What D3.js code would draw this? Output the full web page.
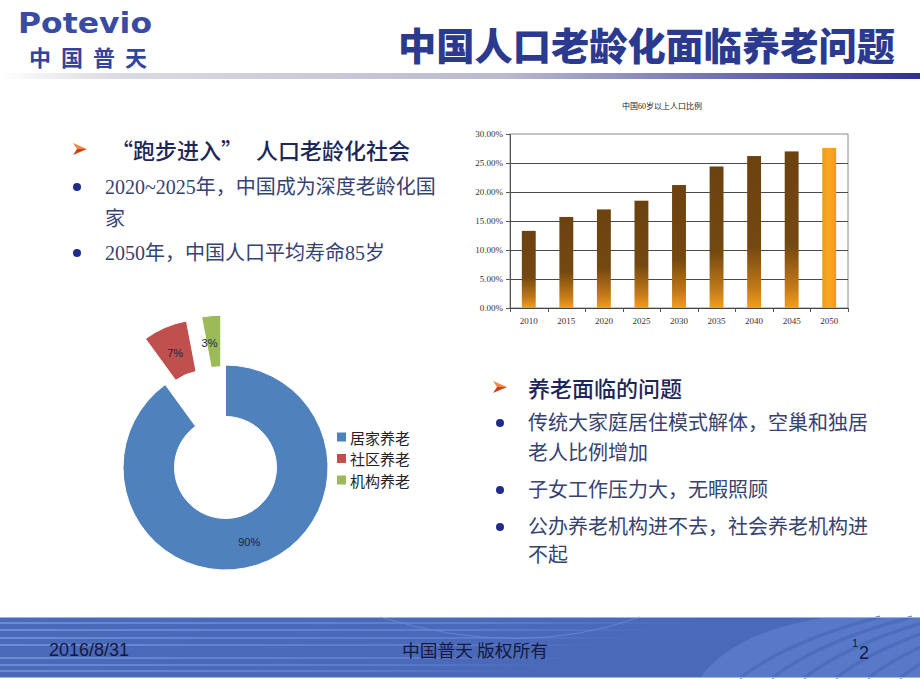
<!DOCTYPE html>
<html>
<head>
<meta charset="utf-8">
<script src="https://cdn.jsdelivr.net/npm/d3@7"></script>
<style>
  body { margin: 0; background: #fff; }
  svg { display: block; }
</style>
</head>
<body>
<svg id="slide" width="920" height="690"></svg>
<script>
// bar chart data
var years = ["2010", "2015", "2020", "2025", "2030", "2035", "2040", "2045", "2050"];
var ratios = [13.3, 15.7, 17.0, 18.5, 21.2, 24.4, 26.2, 27.0, 27.6];
var ratioTicks = [0, 5, 10, 15, 20, 25, 30];
var barTitle = "中国60岁以上人口比例";

// donut data
var careTypes = ["居家养老", "社区养老", "机构养老"];
var careShares = [90, 7, 3];
var careColors = ["#4f81bd", "#c0504d", "#9bbb59"];

// slide text
var slideTitle = "中国人口老龄化面临养老问题";
var leftHead = ["“跑步进入”", "人口老龄化社会"];
var leftPoints = [["2020~2025年，中国成为深度老龄化国", "家"], ["2050年，中国人口平均寿命85岁"]];
var rightHead = "养老面临的问题";
var rightPoints = [["传统大家庭居住模式解体，空巢和独居", "老人比例增加"],
                   ["子女工作压力大，无暇照顾"],
                   ["公办养老机构进不去，社会养老机构进", "不起"]];
var footDate = "2016/8/31";
var footOwner = "中国普天 版权所有";

var svg = d3.select("#slide");
var defs = svg.append("defs");
var cjk = "'Noto Sans CJK SC', 'Noto Sans', sans-serif";
var mixed = "'Liberation Serif', 'Noto Sans CJK SC', serif";

/*
 * Header: logo, title, gradient rule
 */
var rule = defs.append("linearGradient").attr("id", "ruleGrad");
rule.append("stop").attr("offset", 0).attr("stop-color", "#ffffff");
rule.append("stop").attr("offset", 0.12).attr("stop-color", "#dcdce2");
rule.append("stop").attr("offset", 0.55).attr("stop-color", "#b9b9cf");
rule.append("stop").attr("offset", 0.85).attr("stop-color", "#5a5ca8");
rule.append("stop").attr("offset", 1).attr("stop-color", "#2e3190");

svg.append("rect").attr("x", 0).attr("y", 73).attr("width", 920).attr("height", 6)
  .attr("fill", "url(#ruleGrad)");

svg.append("text")
  .attr("x", 18).attr("y", 33)
  .attr("textLength", 134).attr("lengthAdjust", "spacingAndGlyphs")
  .style("font-family", "'DejaVu Sans', sans-serif").style("font-weight", "bold")
  .style("font-size", "28px").attr("fill", "#3a4ca2")
  .text("Potevio");

svg.append("text")
  .attr("x", 29).attr("y", 56).attr("dominant-baseline", "central")
  .attr("textLength", 118).attr("lengthAdjust", "spacing")
  .style("font-family", cjk).style("font-weight", "bold")
  .style("font-size", "22px").attr("fill", "#33449c")
  .text("中国普天");

svg.append("text")
  .attr("x", 895).attr("y", 43).attr("text-anchor", "end").attr("dominant-baseline", "central")
  .attr("textLength", 497).attr("lengthAdjust", "spacingAndGlyphs")
  .style("font-family", cjk).style("font-weight", 900)
  .style("font-size", "38px").attr("fill", "#2b3a8e")
  .text(slideTitle);

/*
 * Bullet text blocks
 */
function arrowMark(x, y) {
  svg.append("path").attr("d", "M" + (x - 7) + "," + (y - 6) + "L" + (x + 7) + "," + y + "L" + (x - 3) + "," + y + "Z")
    .attr("fill", "#f28a3e");
  svg.append("path").attr("d", "M" + (x - 3) + "," + y + "L" + (x + 7) + "," + y + "L" + (x - 7) + "," + (y + 6) + "Z")
    .attr("fill", "#c9401f");
}

function bulletLines(x, points, ys) {
  var k = 0;
  points.forEach(function(lines) {
    svg.append("circle").attr("cx", x - 28).attr("cy", ys[k]).attr("r", 4).attr("fill", "#1f2c8c");
    lines.forEach(function(line) {
      svg.append("text")
        .attr("x", x).attr("y", ys[k]).attr("dominant-baseline", "central")
        .style("font-family", mixed).style("font-size", "20px").attr("fill", "#36426f")
        .text(line);
      k++;
    });
  });
}

arrowMark(80, 149);
svg.append("text").attr("x", 111).attr("y", 149).attr("dominant-baseline", "central")
  .style("font-family", cjk).style("font-weight", 500).style("font-size", "22px").attr("fill", "#1d2757")
  .text(leftHead[0]);
svg.append("text").attr("x", 256).attr("y", 149).attr("dominant-baseline", "central")
  .style("font-family", cjk).style("font-weight", 500).style("font-size", "22px").attr("fill", "#1d2757")
  .text(leftHead[1]);
bulletLines(105, leftPoints, [187, 219, 253]);

arrowMark(500, 387);
svg.append("text").attr("x", 528).attr("y", 387).attr("dominant-baseline", "central")
  .style("font-family", cjk).style("font-weight", 500).style("font-size", "22px").attr("fill", "#1d2757")
  .text(rightHead);
bulletLines(528, rightPoints, [423, 453, 490, 527, 555]);

/*
 * Bar chart
 */
var plot = {left: 510, right: 848, top: 134, bottom: 308};

var bg = defs.append("linearGradient").attr("id", "barGrad")
  .attr("x1", 0).attr("y1", 0).attr("x2", 0).attr("y2", 1);
bg.append("stop").attr("offset", 0).attr("stop-color", "#6c4210");
bg.append("stop").attr("offset", 0.6).attr("stop-color", "#744811");
bg.append("stop").attr("offset", 0.86).attr("stop-color", "#bf7817");
bg.append("stop").attr("offset", 1).attr("stop-color", "#f49d1d");

var bgLast = defs.append("linearGradient").attr("id", "barGradLast")
  .attr("x1", 0).attr("y1", 0).attr("x2", 1).attr("y2", 0);
bgLast.append("stop").attr("offset", 0).attr("stop-color", "#f29a18");
bgLast.append("stop").attr("offset", 0.5).attr("stop-color", "#f8a822");
bgLast.append("stop").attr("offset", 1).attr("stop-color", "#f29a18");

var x = d3.scaleBand().domain(years).range([plot.left, plot.right]).paddingInner(0.63).paddingOuter(0.315);
var y = d3.scaleLinear().domain([0, 30]).range([plot.bottom, plot.top]);
var slots = d3.scaleLinear().domain([0, years.length]).range([plot.left, plot.right]);

svg.append("text")
  .attr("x", 662).attr("y", 106).attr("text-anchor", "middle").attr("dominant-baseline", "central")
  .style("font-family", mixed).style("font-size", "8px").attr("fill", "#222")
  .text(barTitle);

svg.append("rect")
  .attr("x", plot.left).attr("y", plot.top)
  .attr("width", plot.right - plot.left).attr("height", plot.bottom - plot.top)
  .attr("fill", "none").attr("stroke", "#8a8a8a").attr("stroke-width", 1);

svg.append("g").selectAll("line")
  .data(ratioTicks.slice(1, -1))
  .enter().append("line")
    .attr("x1", plot.left).attr("x2", plot.right)
    .attr("y1", function(d) { return Math.round(y(d)) + 0.5; })
    .attr("y2", function(d) { return Math.round(y(d)) + 0.5; })
    .attr("stroke", "#4a4a4a").attr("stroke-width", 1);

svg.append("g").selectAll("rect")
  .data(ratios)
  .enter().append("rect")
    .attr("x", function(d, i) { return x(years[i]); })
    .attr("y", function(d) { return y(d); })
    .attr("width", x.bandwidth())
    .attr("height", function(d) { return y(0) - y(d); })
    .attr("fill", function(d, i) { return i === ratios.length - 1 ? "url(#barGradLast)" : "url(#barGrad)"; });

var yAxis = svg.append("g")
  .attr("transform", "translate(" + plot.left + ",0)")
  .call(d3.axisLeft(y).tickValues(ratioTicks).tickSize(4).tickPadding(3)
    .tickFormat(function(d) { return d.toFixed(2) + "%"; }));
yAxis.select(".domain").attr("stroke", "#555");
yAxis.selectAll(".tick line").attr("stroke", "#555");
yAxis.selectAll("text").style("font-family", mixed).style("font-size", "9px").attr("fill", "#333");

var xAxis = svg.append("g")
  .attr("transform", "translate(0," + plot.bottom + ")")
  .call(d3.axisBottom(x).tickSize(0).tickPadding(10));
xAxis.select(".domain").attr("stroke", "#444");
xAxis.selectAll("text").style("font-family", mixed).style("font-size", "9px").attr("fill", "#333");

svg.append("g").selectAll("line")
  .data(d3.range(years.length + 1))
  .enter().append("line")
    .attr("x1", function(d) { return Math.round(slots(d)) + 0.5; })
    .attr("x2", function(d) { return Math.round(slots(d)) + 0.5; })
    .attr("y1", plot.bottom).attr("y2", plot.bottom + 4)
    .attr("stroke", "#555");

/*
 * Donut chart
 */
var cx = 225.5, cy = 467.5, outerR = 102.5, innerR = 51, explode = 50;

var pie = d3.pie().sort(null).value(function(d) { return d; });
var arc = d3.arc().innerRadius(innerR).outerRadius(outerR);
var slices = pie(careShares);

function shift(d) {
  if (d.index === 0) return [0, 0];
  var a = (d.startAngle + d.endAngle) / 2;
  return [explode * Math.sin(a), -explode * Math.cos(a)];
}

var donut = svg.append("g").attr("transform", "translate(" + cx + "," + cy + ")");
donut.selectAll("path")
  .data(slices)
  .enter().append("path")
    .attr("d", arc)
    .attr("transform", function(d) { return "translate(" + shift(d) + ")"; })
    .attr("fill", function(d) { return careColors[d.index]; })
    .attr("stroke", "#fff").attr("stroke-width", 1);

donut.selectAll("text")
  .data(slices)
  .enter().append("text")
    .attr("transform", function(d) {
      var c = arc.centroid(d), s = shift(d);
      var nudge = d.index === 2 ? -4 : 0;   // 3% label sits a little left of its slice
      return "translate(" + (c[0] + s[0] + nudge) + "," + (c[1] + s[1] + 2) + ")";
    })
    .attr("text-anchor", "middle").attr("dominant-baseline", "central")
    .style("font-family", "'Liberation Sans', sans-serif").style("font-size", "11px")
    .attr("fill", "#1d2244")
    .text(function(d) { return d.data + "%"; });

var legend = svg.append("g").selectAll("g")
  .data(careTypes)
  .enter().append("g")
    .attr("transform", function(d, i) { return "translate(337," + (437 + i * 21.5) + ")"; });
legend.append("rect")
  .attr("x", 0).attr("y", -4.5).attr("width", 9).attr("height", 9)
  .attr("fill", function(d, i) { return careColors[i]; });
legend.append("text")
  .attr("x", 13).attr("y", 0).attr("dominant-baseline", "central")
  .style("font-family", cjk).style("font-size", "15px").attr("fill", "#222")
  .text(function(d) { return d; });

/*
 * Footer band
 */
var fade = defs.append("linearGradient").attr("id", "stripeFade");
fade.append("stop").attr("offset", 0).attr("stop-color", "#6f8fd8").attr("stop-opacity", 0.9);
fade.append("stop").attr("offset", 0.7).attr("stop-color", "#6f8fd8").attr("stop-opacity", 0.5);
fade.append("stop").attr("offset", 1).attr("stop-color", "#6f8fd8").attr("stop-opacity", 0);

svg.append("rect").attr("x", 0).attr("y", 617).attr("width", 920).attr("height", 61).attr("fill", "#4a69b9");
[622, 629, 637, 644, 657, 664, 670].forEach(function(sy, i) {
  svg.append("rect").attr("x", 0).attr("y", sy).attr("width", 700 - i * 30).attr("height", 2)
    .attr("fill", "url(#stripeFade)");
});
svg.append("path").attr("d", "M700,678 Q735,630 830,617 L920,617 L920,678 Z")
  .attr("fill", "#5a7dcc").attr("opacity", 0.8);
d3.range(6).forEach(function(i) {
  var x0 = 740 + i * 32;
  svg.append("path").attr("d", "M" + x0 + ",678 Q" + (x0 + 50) + ",640 " + (x0 + 140) + ",617")
    .attr("fill", "none").attr("stroke", "#4a69b9").attr("stroke-width", 3).attr("opacity", 0.8);
});
svg.append("path").attr("d", "M380,617 Q520,660 640,617").attr("fill", "none")
  .attr("stroke", "#6e8ed6").attr("stroke-width", 1).attr("opacity", 0.7);
svg.append("line").attr("x1", 0).attr("x2", 920).attr("y1", 617.5).attr("y2", 617.5).attr("stroke", "#9fb3e4");
svg.append("line").attr("x1", 0).attr("x2", 920).attr("y1", 677.5).attr("y2", 677.5).attr("stroke", "#9fb3e4");

svg.append("text").attr("x", 49).attr("y", 650).attr("dominant-baseline", "central")
  .style("font-family", "'Liberation Sans', sans-serif").style("font-size", "18px").attr("fill", "#14183f")
  .text(footDate);
svg.append("text").attr("x", 475).attr("y", 649).attr("text-anchor", "middle").attr("dominant-baseline", "central")
  .attr("textLength", 146).attr("lengthAdjust", "spacingAndGlyphs")
  .style("font-family", cjk).style("font-size", "17px").attr("fill", "#14183f")
  .text(footOwner);

// page number: a small raised "1" just before the "2"
svg.append("text").attr("x", 858).attr("y", 643).attr("text-anchor", "end").attr("dominant-baseline", "central")
  .style("font-family", "'Liberation Sans', sans-serif").style("font-size", "11px").attr("fill", "#14183f")
  .text("1");
svg.append("text").attr("x", 859).attr("y", 653).attr("dominant-baseline", "central")
  .style("font-family", "'Liberation Sans', sans-serif").style("font-size", "18px").attr("fill", "#14183f")
  .text("2");
</script>
</body>
</html>
